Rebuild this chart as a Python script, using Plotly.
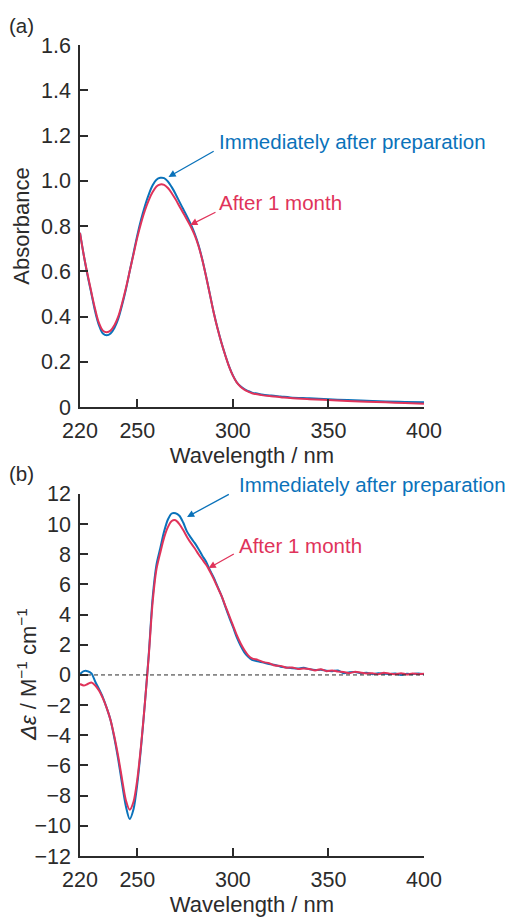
import plotly.graph_objects as go

# ---------------- data ----------------
abs_wl = [220, 222, 224, 226, 228, 230, 232, 234, 236, 238, 240, 242, 244, 246, 248,
          250, 252, 254, 256, 258, 260, 262, 264, 266, 268, 270, 272, 274, 276, 278,
          280, 282, 284, 286, 288, 290, 292, 294, 296, 298, 300, 302, 304, 306, 308,
          310, 315, 320, 325, 330, 340, 350, 360, 370, 380, 390, 400]
abs_fresh = [0.77, 0.67, 0.58, 0.50, 0.42, 0.36, 0.325, 0.317, 0.325, 0.35, 0.39, 0.45, 0.52, 0.60, 0.68,
             0.76, 0.83, 0.89, 0.94, 0.98, 1.005, 1.013, 1.012, 0.997, 0.972, 0.942, 0.908, 0.875, 0.842, 0.807,
             0.767, 0.716, 0.652, 0.577, 0.497, 0.417, 0.347, 0.285, 0.23, 0.18, 0.14, 0.11, 0.092, 0.080, 0.071,
             0.064, 0.056, 0.051, 0.047, 0.043, 0.039, 0.035, 0.031, 0.028, 0.025, 0.023, 0.021]
abs_month = [0.77, 0.67, 0.585, 0.505, 0.43, 0.37, 0.338, 0.331, 0.338, 0.362, 0.40, 0.458, 0.525, 0.60, 0.675,
             0.75, 0.815, 0.87, 0.915, 0.95, 0.975, 0.984, 0.982, 0.968, 0.945, 0.918, 0.888, 0.858, 0.828, 0.797,
             0.760, 0.712, 0.650, 0.576, 0.496, 0.416, 0.346, 0.284, 0.229, 0.179, 0.139, 0.109, 0.090, 0.077, 0.068,
             0.061, 0.053, 0.048, 0.044, 0.040, 0.035, 0.031, 0.027, 0.024, 0.021, 0.018, 0.015]

cd_wl = [220, 222, 224, 226, 228, 230, 232, 234, 236, 238, 240, 242, 244, 246, 248,
         250, 252, 254, 256, 258, 260, 262, 264, 266, 268, 270, 272, 274, 276, 278,
         280, 282, 284, 286, 288, 290, 292, 294, 296, 298, 300, 302, 304, 306, 308,
         310, 313, 316, 319, 322, 325, 328, 331, 334, 337, 340, 343, 346, 349, 352,
         355, 358, 361, 364, 367, 370, 373, 376, 379, 382, 385, 388, 391, 394, 397, 400]
cd_fresh = [0.05, 0.25, 0.25, 0.1, -0.45, -0.95, -1.5, -2.2, -3.0, -4.2, -5.6, -7.2, -8.7, -9.55, -8.9,
            -7.2, -4.7, -1.8, 1.4, 5.1, 7.3, 8.4, 9.5, 10.3, 10.7, 10.72, 10.55, 10.1, 9.5, 9.1,
            8.75, 8.35, 7.9, 7.5, 6.95, 6.45, 5.85, 5.25, 4.55, 3.85, 3.2, 2.5, 1.95, 1.5, 1.2,
            1.0, 0.9, 0.82, 0.72, 0.66, 0.55, 0.5, 0.45, 0.42, 0.47, 0.38, 0.32, 0.35, 0.28, 0.25,
            0.3, 0.12, 0.18, 0.2, 0.1, 0.15, 0.05, 0.12, 0.08, 0.05, 0.1, 0.0, 0.08, 0.05, 0.1, 0.05]
cd_month = [-0.6, -0.7, -0.6, -0.5, -0.7, -1.05, -1.55, -2.2, -3.0, -4.1, -5.4, -6.9, -8.3, -8.93, -8.4,
            -6.9, -4.6, -1.8, 1.3, 4.8, 7.0, 8.1, 9.1, 9.8, 10.2, 10.25, 10.0, 9.6, 9.15, 8.75,
            8.4, 8.0, 7.65, 7.3, 6.85, 6.35, 5.8, 5.25, 4.6, 3.95, 3.3, 2.65, 2.1, 1.65, 1.3,
            1.1, 1.0, 0.85, 0.78, 0.62, 0.6, 0.48, 0.5, 0.4, 0.42, 0.4, 0.3, 0.38, 0.25, 0.3,
            0.22, 0.2, 0.12, 0.22, 0.15, 0.1, 0.12, 0.05, 0.15, 0.08, 0.05, 0.12, 0.03, 0.1, 0.05, 0.08]

x_ticks = [220, 250, 300, 350, 400]
abs_ticks = [0, 0.2, 0.4, 0.6, 0.8, 1.0, 1.2, 1.4, 1.6]
abs_ticktext = ["0", "0.2", "0.4", "0.6", "0.8", "1.0", "1.2", "1.4", "1.6"]
cd_ticks = [-12, -10, -8, -6, -4, -2, 0, 2, 4, 6, 8, 10, 12]
cd_ticktext = [("\u2212" + str(-v)) if v < 0 else str(v) for v in cd_ticks]

label_fresh = "Immediately after preparation"
label_month = "After 1 month"

# ---------------- style ----------------
BLUE = "#0A72BA"
RED = "#E0335A"
INK = "#2b2b2b"
FONT = "Liberation Sans, Arial, sans-serif"
TICK_SIZE = 21.5
TITLE_SIZE = 22
NOTE_SIZE = 20.5

fig = go.Figure()
fig.add_trace(go.Scatter(x=abs_wl, y=abs_fresh, mode="lines", line=dict(color=BLUE, width=2, shape="spline"),
                         xaxis="x", yaxis="y", name=label_fresh, showlegend=False))
fig.add_trace(go.Scatter(x=abs_wl, y=abs_month, mode="lines", line=dict(color=RED, width=2, shape="spline"),
                         xaxis="x", yaxis="y", name=label_month, showlegend=False))
fig.add_trace(go.Scatter(x=cd_wl, y=cd_fresh, mode="lines", line=dict(color=BLUE, width=2, shape="spline", smoothing=0.8),
                         xaxis="x2", yaxis="y2", name=label_fresh, showlegend=False))
fig.add_trace(go.Scatter(x=cd_wl, y=cd_month, mode="lines", line=dict(color=RED, width=2, shape="spline", smoothing=0.8),
                         xaxis="x2", yaxis="y2", name=label_month, showlegend=False))

axis_common = dict(showline=True, linecolor=INK, linewidth=1.5, ticks="inside", ticklen=8,
                   tickwidth=1.5, tickcolor=INK, showgrid=False, zeroline=False,
                   tickfont=dict(family=FONT, size=TICK_SIZE, color=INK), ticklabelstandoff=3)
title_font = dict(family=FONT, size=TITLE_SIZE, color=INK)

fig.update_layout(
    width=507, height=919,
    margin=dict(l=80, r=83, t=45, b=55),
    paper_bgcolor="white", plot_bgcolor="white",
    font=dict(family=FONT, size=TICK_SIZE, color=INK),
    xaxis=dict(axis_common, range=[220, 400], tickvals=x_ticks, anchor="y", domain=[0, 1],
               title=dict(text="Wavelength / nm", standoff=0, font=title_font)),
    yaxis=dict(axis_common, range=[0, 1.6], tickvals=abs_ticks, ticktext=abs_ticktext, anchor="x",
               domain=[0.5535, 1],
               title=dict(text="Absorbance", standoff=5, font=title_font)),
    xaxis2=dict(axis_common, range=[220, 400], tickvals=x_ticks, anchor="y2", domain=[0, 1],
                title=dict(text="Wavelength / nm", standoff=0, font=title_font)),
    yaxis2=dict(axis_common, range=[-12, 12], tickvals=cd_ticks, ticktext=cd_ticktext, anchor="x2",
                domain=[0, 0.4465]),
)

# y title of CD panel (placed as rotated text, closer to the tick labels)
fig.add_annotation(text="<i>\u0394\u03b5</i> / M<sup>\u22121</sup> cm<sup>\u22121</sup>",
                   xref="paper", yref="paper", x=-0.154, y=0.2234, textangle=-90,
                   xanchor="center", yanchor="middle", showarrow=False, font=title_font)

# zero reference line in CD panel
fig.add_shape(type="line", xref="x2 domain", yref="y2", x0=0, x1=1, y0=0, y1=0,
              line=dict(color=INK, width=1, dash="4px,3px"))

# panel labels
fig.add_annotation(text="(a)", xref="paper", yref="paper", x=-0.169, y=1.0, yshift=20,
                   xanchor="center", yanchor="middle", showarrow=False,
                   font=dict(family=FONT, size=20.5, color=INK))
fig.add_annotation(text="(b)", xref="paper", yref="paper", x=-0.169, y=0.4465, yshift=20,
                   xanchor="center", yanchor="middle", showarrow=False,
                   font=dict(family=FONT, size=20.5, color=INK))

# arrows (head on curve)
arrow = dict(showarrow=True, arrowhead=2, arrowsize=1.1, arrowwidth=1.3, text="")
fig.add_annotation(arrow, x=266.3, y=1.017, xref="x", yref="y", ax=46.7, ay=-26.6, arrowcolor=BLUE)
fig.add_annotation(arrow, x=277.7, y=0.805, xref="x", yref="y", ax=26.7, ay=-13.4, arrowcolor=RED)
fig.add_annotation(arrow, x=276.0, y=10.47, xref="x2", yref="y2", ax=43.3, ay=-23.4, arrowcolor=BLUE)
fig.add_annotation(arrow, x=287.3, y=7.08, xref="x2", yref="y2", ax=26.7, ay=-15, arrowcolor=RED)

# texts
note = dict(showarrow=False, xanchor="left", yanchor="middle")
fig.add_annotation(note, text=label_fresh, x=291.9, y=1.175, xref="x", yref="y",
                   font=dict(family=FONT, size=NOTE_SIZE, color=BLUE))
fig.add_annotation(note, text=label_month, x=291.9, y=0.904, xref="x", yref="y",
                   font=dict(family=FONT, size=NOTE_SIZE, color=RED))
fig.add_annotation(note, text=label_fresh, x=302.4, y=12, yshift=9.3, xref="x2", yref="y2",
                   font=dict(family=FONT, size=NOTE_SIZE, color=BLUE))
fig.add_annotation(note, text=label_month, x=302.4, y=8.61, xref="x2", yref="y2",
                   font=dict(family=FONT, size=NOTE_SIZE, color=RED))

fig.write_html("out.html")
